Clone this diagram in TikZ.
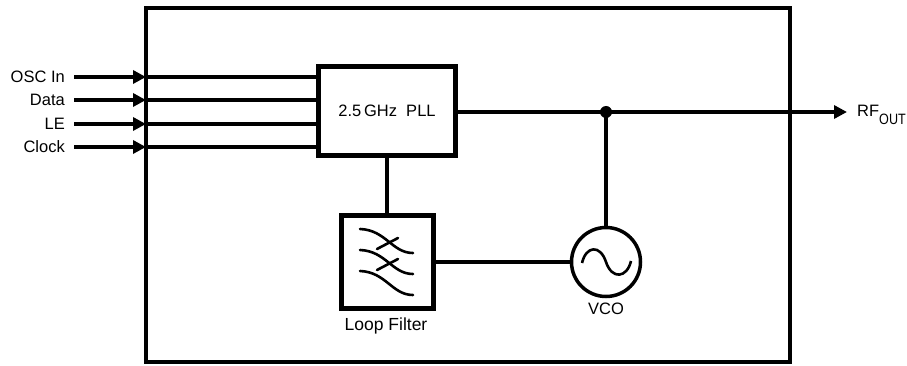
\documentclass[tikz,border=0pt]{standalone}
\usepackage{fontspec}
\setmainfont{Liberation Sans}
\usetikzlibrary{arrows.meta}
\begin{document}
\begin{tikzpicture}[x=1pt,y=-1pt,
  lbl/.style={font=\fontsize{16.5}{18}\selectfont, inner sep=0pt},
  blk/.style={draw, line width=5pt, inner sep=0pt},
  wire/.style={line width=3.3pt},
  inarrow/.style={line width=3.3pt, -{Triangle[length=13pt,width=13pt]}},
  sym/.style={line width=2.6pt, line cap=round}]
\useasboundingbox (0,0) rectangle (907,366);
% outer box
\draw[line width=4.5pt] (146,8) rectangle (790,362);
% PLL
\node[blk, minimum width=137pt, minimum height=89pt] (pll) at (387,111) {};
\node[lbl] (plltxt) at (387,111) {2.5\,GHz\ \ PLL};
% Loop filter
\node[blk, minimum width=92pt, minimum height=93pt] (lf) at (387,262) {};
\node[lbl, anchor=north, font=\fontsize{17.5}{19}\selectfont] (lflbl) at (386,318) {Loop Filter};
% VCO
\node[draw, circle, line width=3.5pt, minimum size=69pt, inner sep=0pt] (vco) at (606,262) {};
\node[lbl, anchor=north] (vcolbl) at (606,303) {VCO};
% sine in VCO
\draw[line width=2.6pt] (582,263) .. controls (586,246) and (600,244) .. (606,262)
  .. controls (612,280) and (627,278) .. (631,261);
% filter curves
\foreach \dy in {0,21,42}{
  \draw[sym] (360,229+\dy) .. controls (386,230+\dy) and (392,253+\dy) .. (413,253+\dy);
}
\draw[sym] (377,249) -- (398,238);
\draw[sym] (377,270) -- (398,259);
% inputs
\coordinate (iosc) at (74,77);
\coordinate (idata) at (74,100);
\coordinate (ile) at (74,124);
\coordinate (iclk) at (74,147);
\node[lbl, anchor=east] (losc) at (65,77) {OSC In};
\node[lbl, anchor=east] (ldata) at (65,100) {Data};
\node[lbl, anchor=east] (lle) at (65,124) {LE};
\node[lbl, anchor=east] (lclk) at (65,147) {Clock};
\foreach \c/\y in {iosc/77,idata/100,ile/124,iclk/147}{
  \coordinate (b\c) at (146,\y);
  \draw[inarrow] (\c) -- (b\c);
  \draw[wire] (b\c) -- (pll.west |- b\c);
}
% output
\coordinate (dot) at (606,112);
\coordinate (rfend) at (847,112);
\node[lbl, anchor=base west] (rf) at (857,117) {RF\raisebox{-8pt}{\fontsize{15}{16}\selectfont\scalebox{0.84}[1]{OUT}}};
\draw[wire] (pll.east |- dot) -- (dot);
\draw[line width=3.3pt, -{Triangle[length=13pt,width=13pt]}] (dot) -- (rfend);
\fill (dot) circle (6pt);
\draw[wire] (dot) -- (vco.north);
\draw[wire] (pll.south) -- (lf.north);
\draw[wire] (lf.east) -- (vco.west);
\end{tikzpicture}
\end{document}
